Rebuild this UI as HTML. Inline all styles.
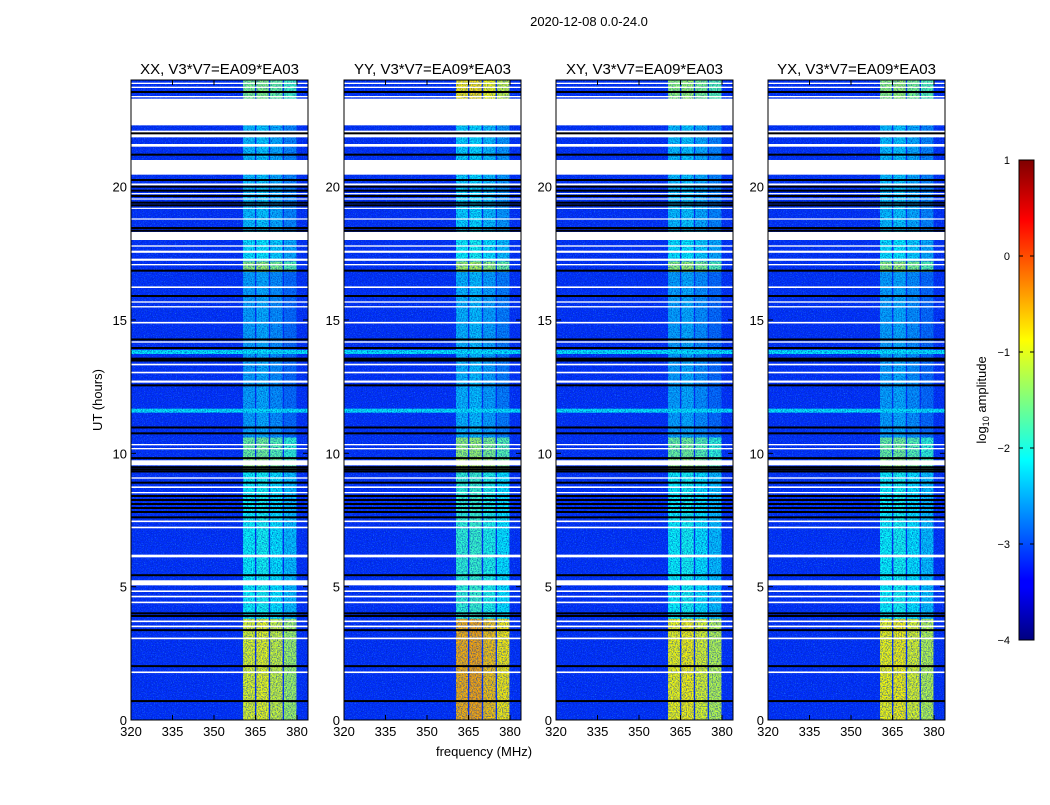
<!DOCTYPE html>
<html><head><meta charset="utf-8"><style>
body{margin:0;background:#fff;}
svg text{font-family:"Liberation Sans",sans-serif;}
</style></head><body>
<svg id="fig" width="1050" height="800" xmlns="http://www.w3.org/2000/svg">
<defs>
<filter id="nzd" x="0" y="0" width="100%" height="100%">
<feTurbulence type="fractalNoise" baseFrequency="0.8" numOctaves="2" seed="3"/>
<feColorMatrix type="matrix" values="0 0 0 0 0  0 0 0 0 0.02  0 0 0 0 0.45  2.2 0 0 0 -0.85"/>
</filter>
<filter id="nzl" x="0" y="0" width="100%" height="100%">
<feTurbulence type="fractalNoise" baseFrequency="0.9" numOctaves="2" seed="11"/>
<feColorMatrix type="matrix" values="0 0 0 0 0.05  0 0 0 0 0.6  0 0 0 0 1  2.6 0 0 0 -1.45"/>
</filter>
<linearGradient id="jet" x1="0" y1="1" x2="0" y2="0">
<stop offset="0" stop-color="#00007f"/><stop offset="0.11" stop-color="#0000ff"/>
<stop offset="0.125" stop-color="#0000ff"/><stop offset="0.375" stop-color="#00ffff"/>
<stop offset="0.5" stop-color="#7fff7f"/><stop offset="0.625" stop-color="#ffff00"/>
<stop offset="0.875" stop-color="#ff0000"/><stop offset="1" stop-color="#7f0000"/>
</linearGradient>
</defs>
<text x="589" y="26" font-size="13" text-anchor="middle">2020-12-08 0.0-24.0</text>
<text transform="translate(102,400) rotate(-90)" font-size="13" text-anchor="middle">UT (hours)</text>
<text x="484" y="756" font-size="13" text-anchor="middle">frequency (MHz)</text>
<g id="panels"></g>
<g id="cbar"></g>
</svg>
<script>
const panelTitles=["XX, V3*V7=EA09*EA03","YY, V3*V7=EA09*EA03","XY, V3*V7=EA09*EA03","YX, V3*V7=EA09*EA03"];
const xTicks=[320,335,350,365,380];
const yTicks=[0,5,10,15,20];
const cbTicks=[1,0,-1,-2,-3,-4];
const backgroundLevel=-3.15;
const subBands=[[360.5,364.8],[365.3,369.8],[370.3,374.8],[375.3,379.8]];
const segStart=[0,3.8,5.2,9.3,9.8,10.6,16.8,17.2,18.3,20.5,22.3];
const segEnd=[3.8,5.2,9.3,9.8,10.6,16.8,17.2,18.3,20.5,22.3,24];
const bandXX=[-1.1,-2.2,-2.2,-1.5,-1.7,-2.65,-1.5,-2.3,-2.5,-2.5,-1.6];
const bandYY=[-0.6,-2.0,-2.0,-1.3,-1.5,-2.55,-1.4,-2.2,-2.4,-2.4,-0.9];
const bandXY=[-1.0,-2.2,-2.2,-1.5,-1.7,-2.65,-1.5,-2.3,-2.5,-2.5,-1.5];
const bandYX=[-1.0,-2.2,-2.2,-1.5,-1.7,-2.65,-1.5,-2.3,-2.5,-2.5,-1.5];
const subOffset=[0.1,0.15,0.0,-0.2];
const whiteStart=[23.85,23.7,23.35,22.3,21.85,21.5,20.45,20.05,19.72,19.52,19.17,18.77,18.0,17.75,17.52,17.22,17.05,16.2,15.65,15.47,14.87,14.15,13.3,13.0,12.65,10.3,10.15,9.55,9.05,8.7,8.5,7.42,7.19,6.1,5.05,4.8,4.6,4.38,3.67,3.48,3.03,1.76];
const whiteEnd=[23.9,23.75,23.4,23.3,22.1,21.6,21.0,20.12,19.76,19.56,19.21,18.81,18.3,17.8,17.6,17.3,17.1,16.26,15.7,15.52,14.93,14.2,13.36,13.06,12.73,10.35,10.2,9.74,9.1,8.76,8.55,7.48,7.25,6.2,5.24,4.86,4.66,4.44,3.73,3.54,3.09,1.82];
const blackLines=[23.55,22.0,21.2,20.25,20.0,19.85,19.65,19.4,19.3,18.45,18.35,16.85,15.9,14.27,13.95,13.55,13.48,12.55,10.97,10.75,9.82,9.48,9.4,9.32,8.9,8.4,8.25,8.1,7.95,7.8,7.6,5.43,4.0,3.9,3.37,2.02,0.71];
const cyanLines=[13.8,11.6];
const cyanLevel=-2.2;
const bands=[bandXX,bandYY,bandXY,bandYX];
const panelLeft=[131,344,556,768];
const PW=177,PT=80,PB=720;
function jet(v){let t=(v+4)/5;t=Math.max(0,Math.min(1,t));
 const f=x=>Math.round(255*Math.max(0,Math.min(1,x)));
 return `rgb(${f(1.5-Math.abs(4*t-3))},${f(1.5-Math.abs(4*t-2))},${f(1.5-Math.abs(4*t-1))})`;}
const NS="http://www.w3.org/2000/svg";
function el(tag,attrs,parent){const e=document.createElementNS(NS,tag);for(const k in attrs)e.setAttribute(k,attrs[k]);parent.appendChild(e);return e;}
const root=document.getElementById('panels');
panelLeft.forEach((L,p)=>{
 const xs=f=>L+(f-320)*(166/60);
 const ys=h=>PB-(h/24)*(PB-PT);
 const g=el('g',{},root);
 
 
 const bg=el('rect',{x:L,y:PT,width:PW,height:PB-PT,fill:jet(backgroundLevel)},g);
 
 
 segStart.forEach((s,i)=>{
  subBands.forEach((b,j)=>{
   const r=el('rect',{x:xs(b[0]),y:ys(segEnd[i]),width:xs(b[1])-xs(b[0]),height:ys(s)-ys(segEnd[i]),fill:jet(bands[p][i]+subOffset[j])},g);
   
   
  });
 });
 cyanLines.forEach(h=>{
  const r=el('rect',{x:L,y:ys(h)-2,width:PW,height:4,fill:jet(cyanLevel)},g);
  
  
 });
 el('rect',{x:L,y:PT,width:PW,height:PB-PT,filter:'url(#nzd)',opacity:0.8},g);
 el('rect',{x:L,y:PT,width:PW,height:PB-PT,filter:'url(#nzl)',opacity:0.6},g);
 whiteStart.forEach((s,i)=>{
  const r=el('rect',{x:L,y:ys(whiteEnd[i]),width:PW,height:Math.max(1.2,ys(s)-ys(whiteEnd[i])),fill:'#fff'},g);
  
  
 });
 blackLines.forEach(h=>{
  const r=el('rect',{x:L,y:ys(h)-1,width:PW,height:2,fill:'#000'},g);
  
  
 });
 const fr=el('rect',{x:L,y:PT,width:PW,height:PB-PT,fill:'none',stroke:'#000','stroke-width':1},g);
 
 
 const t=el('text',{x:L+PW/2,y:PT-6,'font-size':15,'text-anchor':'middle'},g);t.textContent=panelTitles[p];
 
 
 xTicks.forEach(v=>{
  el('line',{x1:xs(v),x2:xs(v),y1:PB,y2:PB-5,stroke:'#000'},g);
  el('line',{x1:xs(v),x2:xs(v),y1:PT,y2:PT+5,stroke:'#000'},g);
  const tt=el('text',{x:xs(v),y:PB+16,'font-size':13,'text-anchor':'middle'},g);tt.textContent=v;
  
  
 });
 yTicks.forEach(v=>{
  el('line',{x1:L,x2:L+5,y1:ys(v),y2:ys(v),stroke:'#000'},g);
  el('line',{x1:L+PW,x2:L+PW-5,y1:ys(v),y2:ys(v),stroke:'#000'},g);
  const tt=el('text',{x:L-4,y:ys(v)+5,'font-size':13,'text-anchor':'end'},g);tt.textContent=v;
  
  
 });
});
const cb=document.getElementById('cbar');
const cbY=v=>640-(v+4)/5*480;
el('rect',{x:1019,y:160,width:15,height:480,fill:'url(#jet)',stroke:'#000','stroke-width':1},cb);
cbTicks.forEach(v=>{
 el('line',{x1:1019,x2:1023,y1:cbY(v),y2:cbY(v),stroke:'#000'},cb);
 el('line',{x1:1034,x2:1030,y1:cbY(v),y2:cbY(v),stroke:'#000'},cb);
 const tt=el('text',{x:1010,y:cbY(v)+4,'font-size':11,'text-anchor':'end'},cb);tt.textContent=(v<0?'\u2212'+(-v):v);
 
 
});
const lab=el('text',{transform:'translate(986,400) rotate(-90)','font-size':13,'text-anchor':'middle'},cb);
lab.innerHTML='log<tspan font-size="9" dy="3">10</tspan><tspan dy="-3"> amplitude</tspan>';


</script>
</body></html>
